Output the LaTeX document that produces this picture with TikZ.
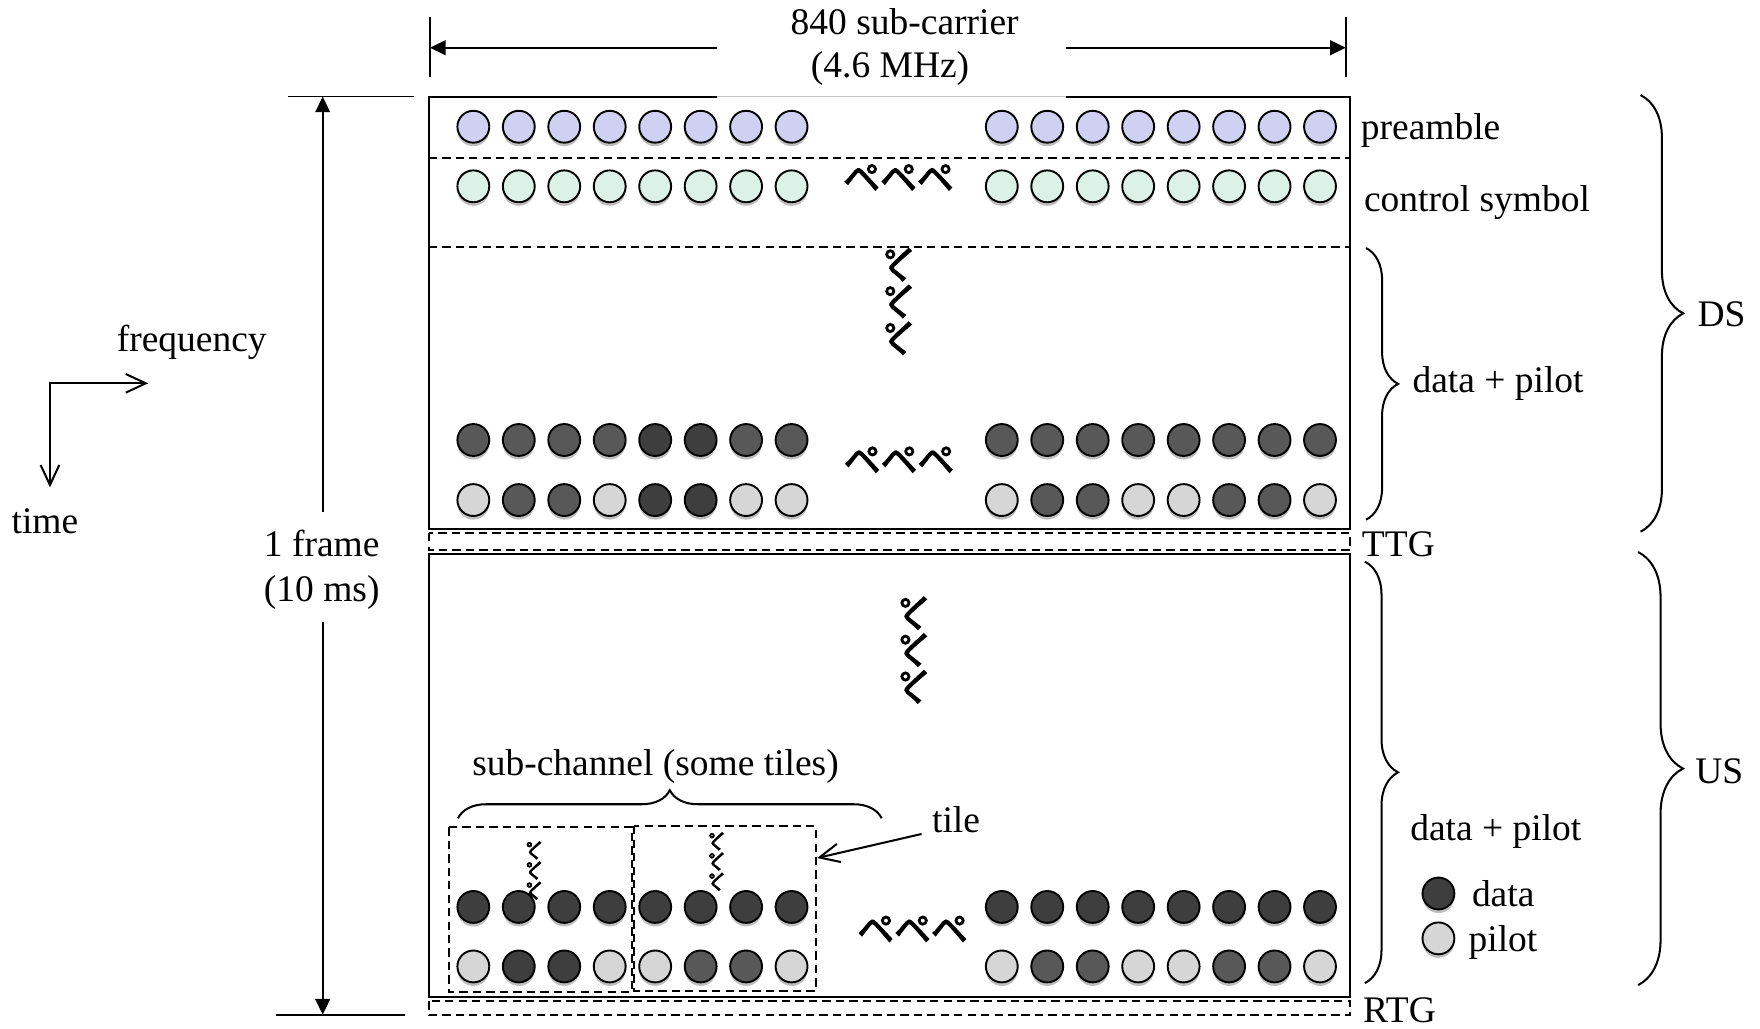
\documentclass[tikz,border=0pt]{standalone}
\usepackage{fontspec}
\setmainfont{Liberation Serif}
\newfontfamily\cjkfont{Noto Sans CJK JP}[FakeBold=3]
\usetikzlibrary{arrows.meta,shadows,decorations.pathreplacing}
\definecolor{pre}{RGB}{208,208,242}
\definecolor{ctl}{RGB}{220,241,231}
\definecolor{dkA}{RGB}{62,62,62}
\definecolor{dkB}{RGB}{88,88,88}
\definecolor{lt}{RGB}{214,214,214}
\begin{document}
\begin{tikzpicture}[x=0.5pt,y=-0.5pt,
  lbl/.style={font=\fontsize{16.7}{20}\selectfont, inner sep=0pt},
  dot/.style={circle, draw=black, line width=0.85pt, minimum size=14.2pt, inner sep=0pt,
    drop shadow={shadow xshift=0pt, shadow yshift=-1.6pt, opacity=0.25, fill=black}},
  bigdots/.style={font=\cjkfont\fontsize{16.4}{16.4}\selectfont, inner sep=0pt},
  smalldots/.style={font=\cjkfont\fontsize{9}{9}\selectfont, inner sep=0pt},
  frameline/.style={line width=0.9pt},
  sepline/.style={line width=0.75pt, dash pattern=on 3.7pt off 2.3pt},
  dimline/.style={line width=1pt},
  tickline/.style={line width=0.8pt},
  fill tip/.style={-{Triangle[length=7pt,width=6.5pt]}},
  open tip/.style={-{Straight Barb[length=8.9pt,width=8.3pt]}},
  brc/.style={decorate, decoration={brace, amplitude=#1}, line width=0.9pt},
]
\useasboundingbox (0,0) rectangle (1568,916);

% ---------- frame boxes ----------
\draw[frameline] (639,86) -- (382,86) -- (382,471) -- (1203,471) -- (1203,86) -- (950,86);
\draw[gray!45, line width=0.5pt] (639,86) -- (950,86);
\draw[sepline] (382,141) -- (1203,141);
\draw[sepline] (382,220) -- (1203,220);
\draw[sepline] (382,475) rectangle (1203,490);
\draw[frameline] (382,493.6) rectangle (1203,888);
\draw[sepline] (382,892) rectangle (1203,904);

% ---------- tiles ----------
\draw[sepline] (400.3,737) rectangle (562.8,884);
\draw[sepline] (565,736) rectangle (726.7,882.6);

% ---------- top dimension ----------
\node[lbl, anchor=base] (sc1) at (806,31) {840 sub-carrier};
\node[lbl, anchor=base] (sc2) at (793,69) {(4.6 MHz)};
\coordinate (dimL) at (383,42.5);
\coordinate (dimR) at (1199,42.5);
\coordinate (dimLi) at (639,42.5);
\coordinate (dimRi) at (950,42.5);
\draw[dimline, fill tip] (dimLi) -- (dimL);
\draw[dimline, fill tip] (dimRi) -- (dimR);
\draw[tickline] (383,15) -- (383,69);
\draw[tickline] (1199,15) -- (1199,69);

% ---------- frame arrow ----------
\node[lbl, anchor=base] (fr1) at (286.6,496) {1 frame};
\node[lbl, anchor=base] (fr2) at (286.6,536) {(10 ms)};
\coordinate (frT) at (287.5,86);
\coordinate (frTi) at (287.5,456);
\coordinate (frB) at (287.5,904);
\coordinate (frBi) at (287.5,554);
\draw[dimline, fill tip] (frTi) -- (frT);
\draw[dimline, fill tip] (frBi) -- (frB);
\draw[tickline] (256.6,86) -- (369,86);
\draw[tickline] (246,904) -- (361,904);

% ---------- axes ----------
\node[lbl, anchor=base] (freq) at (170.8,313.3) {frequency};
\node[lbl, anchor=base] (time) at (40,475) {time};
\coordinate (ax) at (44.5,341.5);
\coordinate (axf) at (132,341.5);
\coordinate (axt) at (44.5,434.2);
\draw[line width=0.9pt, {Straight Barb[length=8.9pt,width=8.3pt]}-{Straight Barb[length=8.9pt,width=8.3pt]}] (axt) -- (ax) -- (axf);

% ---------- circles ----------
\foreach \nm/\y/\x/\cl in {
  pl/112.9/421.7/{pre,pre,pre,pre,pre,pre,pre,pre},
  pr/112.9/892.5/{pre,pre,pre,pre,pre,pre,pre,pre},
  cl/166/421.7/{ctl,ctl,ctl,ctl,ctl,ctl,ctl,ctl},
  cr/166/892.5/{ctl,ctl,ctl,ctl,ctl,ctl,ctl,ctl},
  dl/392/421.7/{dkB,dkB,dkB,dkB,dkA,dkA,dkB,dkB},
  dr/392/892.5/{dkB,dkB,dkB,dkB,dkB,dkB,dkB,dkB},
  il/445.5/421.7/{lt,dkB,dkB,lt,dkA,dkA,lt,lt},
  ir/445.5/892.5/{lt,dkB,dkB,lt,lt,dkB,dkB,lt},
  udl/808/421.7/{dkA,dkA,dkA,dkA,dkA,dkA,dkA,dkA},
  udr/808/892.5/{dkA,dkA,dkA,dkA,dkA,dkA,dkA,dkA},
  uil/861/421.7/{lt,dkA,dkA,lt,lt,dkB,dkB,lt},
  uir/861/892.5/{lt,dkB,dkB,lt,lt,dkB,dkB,lt}}{
  \foreach \c [count=\i] in \cl {
    \node[dot, fill=\c] (\nm\i) at ({\x+40.5*(\i-1)},\y) {};
  }
}

% ---------- ellipsis marks ----------
\node[bigdots] (e1) at (800.5,158.5) {ペペペ};
\node[bigdots, rotate=90] (e2) at (801,268.5) {ペペペ};
\node[bigdots] (e3) at (801,410) {ペペペ};
\node[bigdots, rotate=90] (e4) at (814.5,579) {ペペペ};
\node[bigdots] (e5) at (813,828) {ペペペ};
\node[smalldots, rotate=90] (e6) at (476,775.5) {ペペペ};
\node[smalldots, rotate=90] (e7) at (638.6,767.5) {ペペペ};

% ---------- sub-channel & tile ----------
\node[lbl, anchor=base] (subch) at (584,691) {sub-channel (some tiles)};
\draw[brc=12.5pt] (408,729) -- (785.5,729);
\node[lbl, anchor=base west] (tilelbl) at (830,742) {tile};
\coordinate (tileS) at (821,743);
\coordinate (tileE) at (728,764.4);
\draw[line width=0.9pt, open tip] (tileS) -- (tileE);

% ---------- right labels ----------
\node[lbl, anchor=base west] (pre) at (1212,124.7) {preamble};
\node[lbl, anchor=base west] (ctl) at (1214.8,188) {control symbol};
\node[lbl, anchor=base west] (dpd) at (1258,350) {data + pilot};
\node[lbl, anchor=base west] (ds) at (1512,291) {DS};
\node[lbl, anchor=base west] (ttg) at (1213,496) {TTG};
\node[lbl, anchor=base west] (dpu) at (1256,749) {data + pilot};
\node[lbl, anchor=base west] (us) at (1510,698) {US};
\node[lbl, anchor=base west] (rtg) at (1214,911) {RTG};
\node[dot, fill=dkA] (lgd) at (1281.5,796) {};
\node[dot, fill=lt] (lgp) at (1281.5,836) {};
\node[lbl, anchor=base west] (lgdt) at (1311,808) {data};
\node[lbl, anchor=base west] (lgpt) at (1308,848) {pilot};

% ---------- braces ----------
\draw[brc=14.3pt] (1217,221) -- (1217,463);
\draw[brc=19pt] (1461.6,84.7) -- (1461.6,473.7);
\draw[brc=14.8pt] (1216,500.4) -- (1216,875.8);
\draw[brc=20pt] (1459.4,491.8) -- (1459.4,877.6);
\end{tikzpicture}
\end{document}
